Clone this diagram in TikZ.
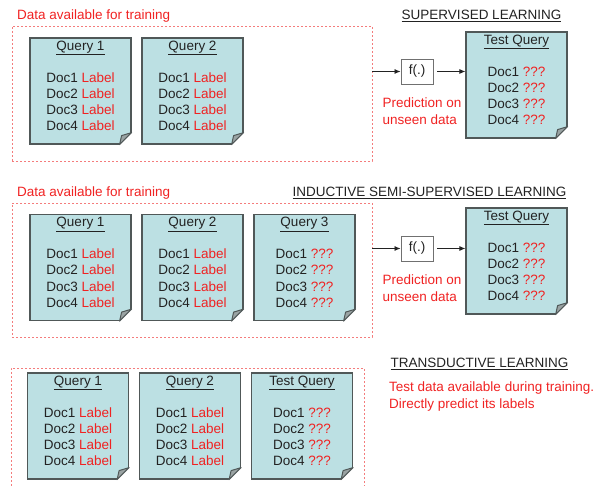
\documentclass[tikz,border=0pt]{standalone}
\usepackage{fontspec}
\setmainfont{Liberation Sans}
\usepackage{tikz}
\usetikzlibrary{positioning,arrows.meta}
\usepackage{xcolor}
\definecolor{pagefill}{HTML}{BCE0E3}
\definecolor{pageedge}{HTML}{505858}
\definecolor{foldgray}{HTML}{9AA3A3}
\definecolor{labelred}{HTML}{F02222}
\definecolor{trainred}{HTML}{F47C7C}
\definecolor{ink}{HTML}{222222}
\definecolor{fedge}{HTML}{707070}

\newcommand{\lab}{\textcolor{labelred}{Label}}
\newcommand{\qmarks}{\textcolor{labelred}{???}}
\newcommand{\doclines}[1]{Doc1 #1\\Doc2 #1\\Doc3 #1\\Doc4 #1}
% cut the lower right corner of a page and draw the fold
\newcommand{\pagefold}[1]{%
  \fill[white] ([shift={(-13pt,-1pt)}]#1.south east) -- ([shift={(1pt,13pt)}]#1.south east) -- ([shift={(1pt,-1pt)}]#1.south east) -- cycle;
  \filldraw[fill=foldgray, draw=pageedge, line width=1pt, line join=round] ([xshift=-12pt]#1.south east) -- ([yshift=12pt]#1.south east) -- ([shift={(-10pt,9pt)}]#1.south east) -- cycle;
}

\begin{document}
\begin{tikzpicture}[
    x=1pt, y=1pt,
    every node/.style={font=\fontsize{13.5}{16.3}\selectfont},
    page/.style={rectangle, draw=pageedge, fill=pagefill, line width=1.2pt, minimum width=101pt, minimum height=106pt, inner sep=0pt},
    pagetext/.style={align=center, inner sep=0pt, text=ink},
    trainbox/.style={rectangle, draw=trainred, dash pattern=on 2pt off 2pt, line width=0.9pt, inner sep=0pt},
    boxlabel/.style={text=labelred, inner sep=0pt, anchor=base west},
    heading/.style={text=ink, inner sep=0pt, anchor=base},
    fbox/.style={rectangle, draw=fedge, fill=white, line width=0.9pt, minimum width=32pt, minimum height=25pt, inner sep=0pt, text=ink},
    note/.style={text=labelred, align=left, inner sep=0pt, anchor=north west},
    flow/.style={-{Latex[length=6pt,width=5pt]}, line width=0.8pt, draw=ink}
]
    \useasboundingbox (0,0) rectangle (597,485);
    \clip (0,0) rectangle (597,485);

    % supervised
    \node[trainbox, minimum width=360pt, minimum height=135pt] (train1) at (192,391.5) {};
    \node[boxlabel] (data1) at (17,465.2) {Data available for training};
    \node[heading] (sup) at (481.5,465.2) {\underline{SUPERVISED LEARNING}};

    \node[page] (q11) at (80.5,394) {};
    \pagefold{q11}
    \node[pagetext, below=3pt of q11.north] (q11t) {\underline{Query 1}\\[15.7pt]\doclines{\lab}};
    \node[page] (q12) at (192.5,394) {};
    \pagefold{q12}
    \node[pagetext, below=3pt of q12.north] (q12t) {\underline{Query 2}\\[15.7pt]\doclines{\lab}};

    \node[fbox] (f1) at (417,413.5) {f(.)};
    \node[note] (pred1) at (382.5,387) {Prediction on\\unseen data};

    \node[page] (test1) at (516.5,400) {};
    \pagefold{test1}
    \node[pagetext, below=3pt of test1.north] (test1t) {\underline{Test Query}\\[15.7pt]\doclines{\qmarks}};

    \draw[flow] (train1.east |- f1.west) -- (f1.west);
    \draw[flow, shorten <=4pt] (f1.east) -- (f1.east -| test1.west);

    % inductive semi-supervised
    \node[trainbox, minimum width=360pt, minimum height=134pt] (train2) at (192,215) {};
    \node[boxlabel] (data2) at (17,288.2) {Data available for training};
    \node[heading] (semi) at (429.5,288.2) {\underline{INDUCTIVE SEMI-SUPERVISED LEARNING}};

    \node[page] (q21) at (80.5,217.5) {};
    \pagefold{q21}
    \node[pagetext, below=3pt of q21.north] (q21t) {\underline{Query 1}\\[15.7pt]\doclines{\lab}};
    \node[page] (q22) at (192.5,217.5) {};
    \pagefold{q22}
    \node[pagetext, below=3pt of q22.north] (q22t) {\underline{Query 2}\\[15.7pt]\doclines{\lab}};
    \node[page] (q23) at (304.5,217.5) {};
    \pagefold{q23}
    \node[pagetext, below=3pt of q23.north] (q23t) {\underline{Query 3}\\[15.7pt]\doclines{\qmarks}};

    \node[fbox] (f2) at (417,236.5) {f(.)};
    \node[note] (pred2) at (382.5,210) {Prediction on\\unseen data};

    \node[page] (test2) at (516.5,224) {};
    \pagefold{test2}
    \node[pagetext, below=3pt of test2.north] (test2t) {\underline{Test Query}\\[15.7pt]\doclines{\qmarks}};

    \draw[flow] (train2.east |- f2.west) -- (f2.west);
    \draw[flow, shorten <=4pt] (f2.east) -- (f2.east -| test2.west);

    % transductive
    \node[trainbox, minimum width=353pt, minimum height=122pt] (train3) at (187.5,56) {};
    \node[heading] (trans) at (479.5,117.2) {\underline{TRANSDUCTIVE LEARNING}};
    \node[note] (testnote) at (389,103) {Test data available during training.\\Directly predict its labels};

    \node[page] (q31) at (78,59) {};
    \pagefold{q31}
    \node[pagetext, below=3pt of q31.north] (q31t) {\underline{Query 1}\\[15.7pt]\doclines{\lab}};
    \node[page] (q32) at (190,59) {};
    \pagefold{q32}
    \node[pagetext, below=3pt of q32.north] (q32t) {\underline{Query 2}\\[15.7pt]\doclines{\lab}};
    \node[page] (test3) at (302,59) {};
    \pagefold{test3}
    \node[pagetext, below=3pt of test3.north] (test3t) {\underline{Test Query}\\[15.7pt]\doclines{\qmarks}};
\end{tikzpicture}
\end{document}
